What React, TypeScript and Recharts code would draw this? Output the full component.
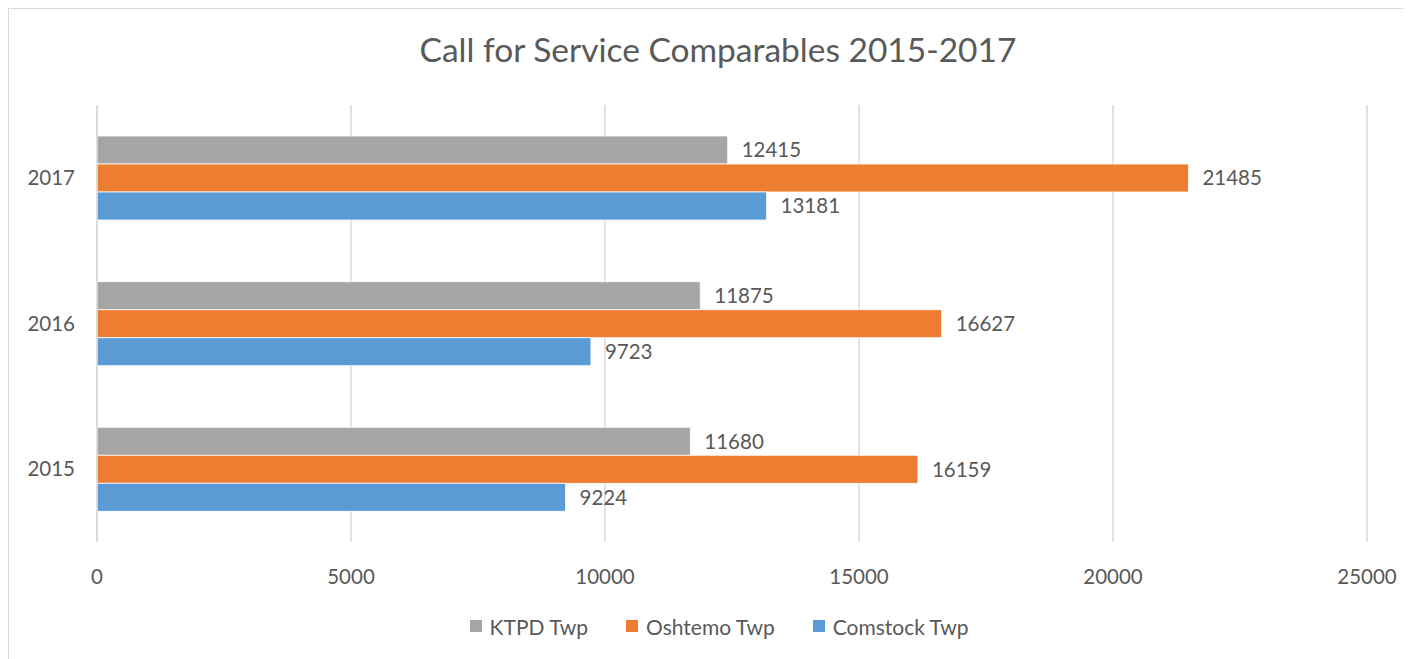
import { Bar, BarChart, CartesianGrid, LabelList, Legend, XAxis, YAxis } from "recharts";

// datos
const YEARS = ["2017", "2016", "2015"];
const KTPD = [12415, 11875, 11680];
const OSHTEMO = [21485, 16627, 16159];
const COMSTOCK = [13181, 9723, 9224];
const X_TICKS = [0, 5000, 10000, 15000, 20000, 25000];

const SERIES = [
  { key: "ktpd", name: "KTPD Twp", color: "#a5a5a5" },
  { key: "oshtemo", name: "Oshtemo Twp", color: "#ed7d31" },
  { key: "comstock", name: "Comstock Twp", color: "#5b9bd5" },
];

const rows = YEARS.map((y, i) => ({
  year: y,
  ktpd: KTPD[i],
  oshtemo: OSHTEMO[i],
  comstock: COMSTOCK[i],
}));

const TEXT = "#595959";
const GRID = "#d9d9d9";
const FONT = "Lato, 'Open Sans', sans-serif";

// leyenda propia: el recuadro de color va a la izquierda, como en Excel
function LegendBox() {
  return (
    <div style={{ display: "flex", justifyContent: "center", gap: 38, height: 40, alignItems: "center", paddingLeft: 62, fontFamily: FONT, fontSize: 21, color: TEXT }}>
      {SERIES.map((s) => (
        <div key={s.key} style={{ display: "flex", alignItems: "center", gap: 8 }}>
          <span style={{ width: 12, height: 12, background: s.color, display: "inline-block" }} />
          <span>{s.name}</span>
        </div>
      ))}
    </div>
  );
}

export default function App() {
  return (
    <div style={{ position: "relative", width: 1402, height: 650, borderLeft: `1px solid ${GRID}`, borderTop: `1px solid ${GRID}`, background: "#fff" }}>
      <div style={{ position: "absolute", top: 20, left: 0, width: 1418, textAlign: "center", fontFamily: FONT, fontSize: 33.5, color: TEXT }}>
        Call for Service Comparables 2015-2017
      </div>
      <BarChart
        width={1402}
        height={650}
        data={rows}
        layout="vertical"
        margin={{ top: 96, right: 44, left: 0, bottom: 27 }}
        barCategoryGap={31}
        barGap={0}
      >
        <CartesianGrid horizontal={false} stroke={GRID} strokeWidth={1.5} />
        <XAxis
          type="number"
          domain={[0, 25000]}
          ticks={X_TICKS}
          axisLine={false}
          tickLine={false}
          tickMargin={21}
          height={50}
          tick={{ fill: TEXT, fontSize: 20.5, fontFamily: FONT }}
        />
        <YAxis
          type="category"
          dataKey="year"
          width={88}
          axisLine={{ stroke: GRID, strokeWidth: 1.5 }}
          tickLine={false}
          tickMargin={16}
          tick={{ fill: TEXT, fontSize: 20.5, fontFamily: FONT }}
        />
        <Legend verticalAlign="bottom" wrapperStyle={{ bottom: 13 }} content={() => <LegendBox />} />
        {SERIES.map((s) => (
          <Bar key={s.key} dataKey={s.key} name={s.name} fill={s.color} stroke="#fff" strokeWidth={0.8} isAnimationActive={false}>
            <LabelList dataKey={s.key} position="right" offset={14} style={{ fill: TEXT, fontSize: 20.5, fontFamily: FONT }} />
          </Bar>
        ))}
      </BarChart>
    </div>
  );
}
